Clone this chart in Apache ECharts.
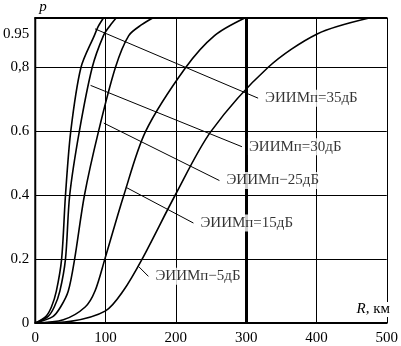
<!DOCTYPE html>
<html>
<head>
<meta charset="utf-8">
<script src="https://cdn.jsdelivr.net/npm/echarts@6/dist/echarts.min.js"></script>
<style>
html, body { margin: 0; background: #fff; }
#chart { width: 401px; height: 346px; }
</style>
</head>
<body>
<div id="chart"></div>
<script>
// оси
const xTicks = [0, 100, 200, 300, 400, 500]
const yTickValues = [0, 0.2, 0.4, 0.6, 0.8, 0.905]
const yTickLabels = ['0', '0.2', '0.4', '0.6', '0,8', '0.95']

// кривые p(R), R в км
const curve35 = [[0, 0], [15, 0.02], [23, 0.05], [30, 0.1], [37.5, 0.2], [43, 0.4], [50.5, 0.6], [65, 0.8], [84, 0.9], [90, 0.93], [97, 0.955]]
const curve30 = [[0, 0], [18, 0.02], [27, 0.05], [35, 0.1], [43, 0.2], [49, 0.4], [62.7, 0.6], [81, 0.8], [97, 0.9], [106, 0.93], [115, 0.955]]
const curve25 = [[0, 0], [25, 0.02], [36, 0.05], [47, 0.1], [56, 0.2], [70, 0.4], [90, 0.6], [114, 0.8], [133, 0.9], [152, 0.935], [167, 0.955]]
const curve15 = [[0, 0], [40, 0.01], [71, 0.05], [85, 0.1], [99, 0.2], [126, 0.4], [157, 0.6], [214, 0.8], [255, 0.9], [298, 0.955]]
const curve5 = [[0, 0], [50, 0.005], [100, 0.038], [125, 0.1], [152, 0.2], [199, 0.4], [250, 0.6], [331, 0.8], [401, 0.905], [475, 0.955]]

// подписи кривых и выноски
const curveNames = ['ЭИИМп=35дБ', 'ЭИИМп=30дБ', 'ЭИИМп−25дБ', 'ЭИИМп=15дБ', 'ЭИИМп−5дБ']
const leaderStart = [[85, 0.921], [78.7, 0.744], [97.5, 0.626], [129, 0.425], [147, 0.177]]
const leaderEnd = [[317, 0.704], [294, 0.552], [262, 0.446], [225, 0.313], [161, 0.146]]

const font = 'Liberation Serif'
const curves = [curve35, curve30, curve25, curve15, curve5]

let chart = echarts.init(document.getElementById('chart'))

let series = curves.map(c => ({
    type: 'line',
    data: c,
    smooth: 0.3,
    symbol: 'none',
    lineStyle: { color: '#000', width: 1.6 },
    z: 3
}))

// толстая линия R = 300
series.push({
    type: 'line',
    data: [],
    markLine: {
        silent: true,
        symbol: 'none',
        label: { show: false },
        lineStyle: { color: '#000', width: 3, type: 'solid' },
        data: [{ xAxis: 300 }]
    },
    z: 2
})

// выноски и подписи
series.push({
    type: 'scatter',
    data: leaderEnd.map((p, i) => ({ value: p, name: curveNames[i] })),
    symbolSize: 0,
    label: {
        show: true,
        position: 'right',
        distance: 6,
        formatter: p => p.name,
        fontFamily: font,
        fontSize: 15,
        color: '#000',
        backgroundColor: '#fff',
        padding: [1, 1]
    },
    markLine: {
        silent: true,
        symbol: 'none',
        label: { show: false },
        lineStyle: { color: '#000', width: 1, type: 'solid' },
        data: leaderStart.map((s, i) => [{ coord: s }, { coord: leaderEnd[i] }])
    },
    z: 5
})

let option = {
    animation: false,
    backgroundColor: '#fff',
    grid: { left: 31, right: 6, top: 17, bottom: 21 },
    xAxis: [{
        type: 'value',
        min: 0,
        max: 500,
        interval: 100,
        axisLine: { show: true, lineStyle: { color: '#000', width: 2 } },
        axisTick: { show: false },
        axisLabel: { fontFamily: font, fontSize: 15, color: '#000', margin: 8 },
        splitLine: { show: true, lineStyle: { color: '#000', width: 1 } }
    }, {
        type: 'value',
        position: 'top',
        min: 0,
        max: 500,
        axisLine: { show: true, lineStyle: { color: '#000', width: 2 } },
        axisTick: { show: false },
        axisLabel: { show: false },
        splitLine: { show: false }
    }],
    yAxis: {
        type: 'value',
        min: 0,
        max: 0.955,
        interval: 0.2,
        name: 'p',
        nameGap: 3,
        nameTextStyle: { fontFamily: font, fontSize: 15, fontStyle: 'italic', color: '#000', align: 'left', padding: [0, 0, 0, 4] },
        axisLine: { show: true, lineStyle: { color: '#000', width: 2 } },
        axisTick: { show: false },
        axisLabel: {
            customValues: yTickValues,
            formatter: v => {
                let i = yTickValues.findIndex(t => Math.abs(t - v) < 1e-6)
                return i >= 0 ? yTickLabels[i] : ''
            },
            fontFamily: font,
            fontSize: 15,
            color: '#000',
            margin: 6
        },
        splitLine: { show: true, lineStyle: { color: '#000', width: 1 } }
    },
    graphic: [{
        type: 'text',
        right: 11,
        top: 302,
        style: {
            text: '{i|R}, км',
            rich: { i: { fontStyle: 'italic', fontFamily: font, fontSize: 15 } },
            fontFamily: font,
            fontSize: 15,
            fill: '#000',
            backgroundColor: '#fff'
        },
        z: 10
    }],
    series: series
}

chart.setOption(option)
</script>
</body>
</html>
